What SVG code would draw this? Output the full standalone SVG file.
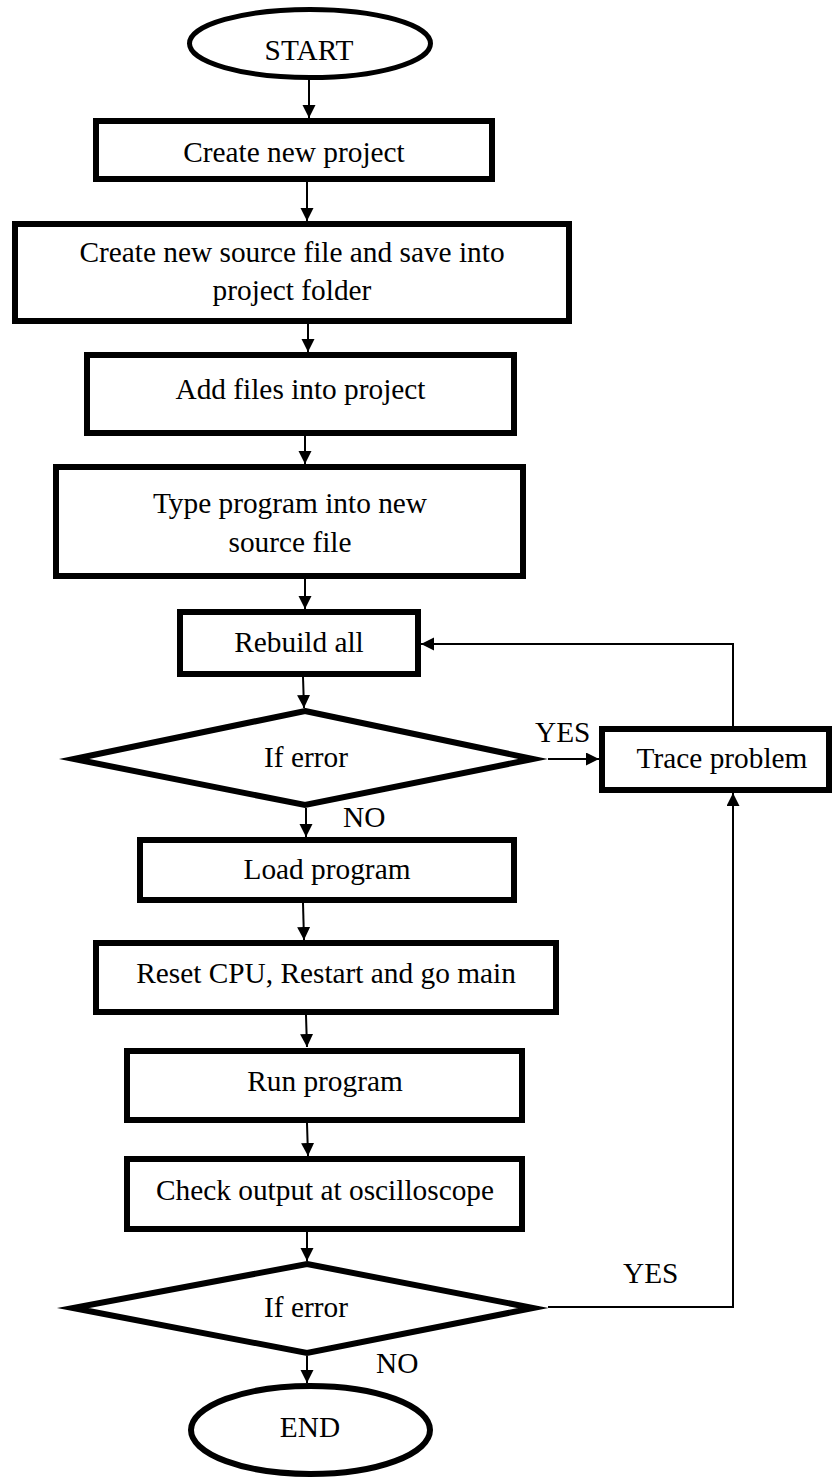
<svg xmlns="http://www.w3.org/2000/svg" width="833" height="1480" viewBox="0 0 833 1480">
<style>
.n{fill:#fff;stroke:#000;stroke-width:6;stroke-miterlimit:10}
.t{font-family:"Liberation Serif","Times New Roman",serif;font-size:29.33px;fill:#000;text-anchor:middle}
.l{font-family:"Liberation Serif","Times New Roman",serif;font-size:29.33px;fill:#000}
.c{fill:none;stroke:#000;stroke-width:2;marker-end:url(#ah)}
</style>
<defs>
<marker id="ah" markerUnits="userSpaceOnUse" markerWidth="14" markerHeight="14" refX="13" refY="6.5" orient="auto">
<path d="M0,0 L13,6.5 L0,13 Z" fill="#000"/>
</marker>
</defs>
<rect width="833" height="1480" fill="#fff"/>
<g id="connectors">
<path class="c" d="M309,80 L309,118"/>
<path class="c" d="M307,182 L307,221"/>
<path class="c" d="M308,324 L308,352"/>
<path class="c" d="M305,436 L305,464"/>
<path class="c" d="M305,579 L305,609"/>
<path class="c" d="M303,677 L304,708"/>
<path class="c" d="M306,808 L306,837"/>
<path class="c" d="M548,759 L599,759"/>
<path class="c" d="M733,726 L733,644 L421,644"/>
<path class="c" d="M303,903 L304,940"/>
<path class="c" d="M306,1015 L307,1047"/>
<path class="c" d="M307,1123 L308,1156"/>
<path class="c" d="M307,1232 L307,1261"/>
<path class="c" d="M307,1356 L307,1383"/>
<path class="c" d="M548,1307 L733,1307 L733,793"/>
<text class="l" x="535" y="742">YES</text>
<text class="l" x="343" y="827">NO</text>
<text class="l" x="623" y="1283">YES</text>
<text class="l" x="376" y="1373">NO</text>
</g>
<g id="start">
<ellipse class="n" cx="310" cy="43.5" rx="120.5" ry="34" style="stroke-width:5"/>
<text class="t" x="309" y="60">START</text>
</g>
<g id="create-project">
<rect class="n" x="96" y="121" width="396" height="58"/>
<text class="t" x="294" y="162">Create new project</text>
</g>
<g id="create-source">
<rect class="n" x="15" y="224" width="554" height="97"/>
<text class="t" x="292" y="262">Create new source file and save into</text>
<text class="t" x="292" y="300">project folder</text>
</g>
<g id="add-files">
<rect class="n" x="87" y="355" width="427" height="78"/>
<text class="t" x="300.5" y="399">Add files into project</text>
</g>
<g id="type-program">
<rect class="n" x="56" y="467" width="467" height="109"/>
<text class="t" x="290" y="513">Type program into new</text>
<text class="t" x="290" y="552">source file</text>
</g>
<g id="rebuild">
<rect class="n" x="180" y="612" width="238" height="62"/>
<text class="t" x="299" y="652">Rebuild all</text>
</g>
<g id="if-error-1">
<polygon class="n" points="305,711 533,759 305,805 74,759"/>
<text class="t" x="306" y="767">If error</text>
</g>
<g id="trace">
<rect class="n" x="602" y="729" width="227" height="61"/>
<text class="t" x="722" y="768">Trace problem</text>
</g>
<g id="load">
<rect class="n" x="140" y="840" width="374" height="60"/>
<text class="t" x="327" y="879">Load program</text>
</g>
<g id="reset">
<rect class="n" x="96" y="943" width="460" height="69"/>
<text class="t" x="326" y="983">Reset CPU, Restart and go main</text>
</g>
<g id="run">
<rect class="n" x="127" y="1051" width="395" height="69"/>
<text class="t" x="325" y="1091">Run program</text>
</g>
<g id="check">
<rect class="n" x="127" y="1159" width="395" height="70"/>
<text class="t" x="325" y="1200">Check output at oscilloscope</text>
</g>
<g id="if-error-2">
<polygon class="n" points="307,1264 533,1308 307,1353 73,1308"/>
<text class="t" x="306" y="1317">If error</text>
</g>
<g id="end">
<ellipse class="n" cx="310.5" cy="1430" rx="119.5" ry="44"/>
<text class="t" x="310" y="1437">END</text>
</g>
</svg>
